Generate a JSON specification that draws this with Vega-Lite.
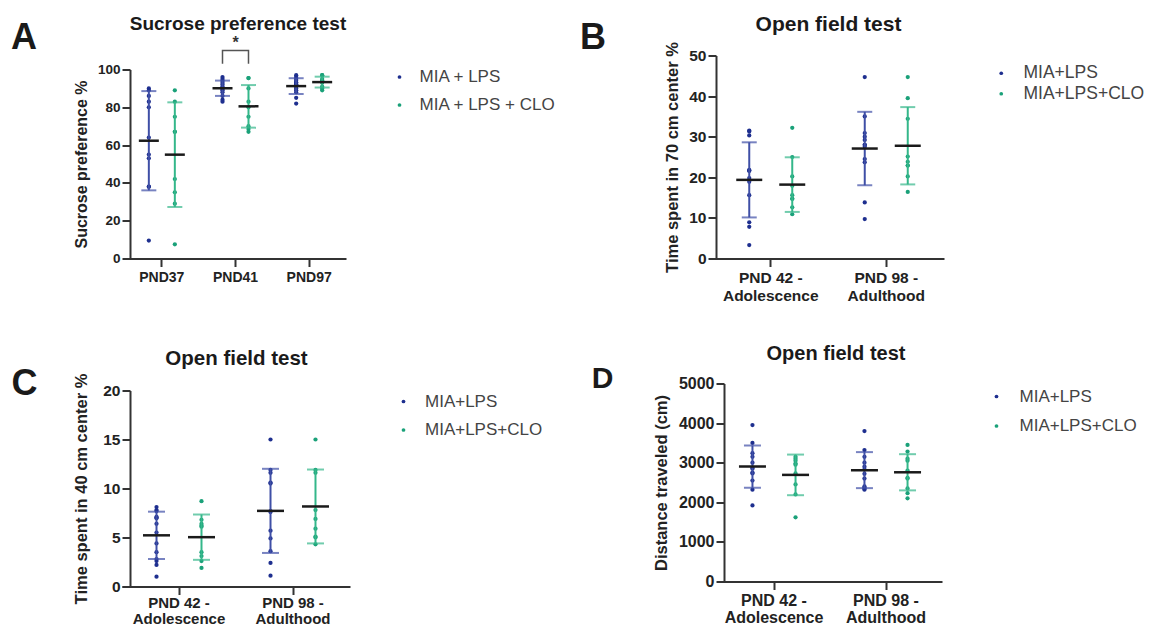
{
  "$schema": "https://vega.github.io/schema/vega-lite/v6.json",
  "padding": {"left": 10, "top": 13.5, "right": 2, "bottom": 0},
  "background": "white",
  "datasets": {
    "sucrose": [
      {"time": "PND37", "group": "MIA + LPS", "value": 90},
      {"time": "PND37", "group": "MIA + LPS", "value": 89},
      {"time": "PND37", "group": "MIA + LPS", "value": 86},
      {"time": "PND37", "group": "MIA + LPS", "value": 83},
      {"time": "PND37", "group": "MIA + LPS", "value": 80},
      {"time": "PND37", "group": "MIA + LPS", "value": 64},
      {"time": "PND37", "group": "MIA + LPS", "value": 55},
      {"time": "PND37", "group": "MIA + LPS", "value": 53},
      {"time": "PND37", "group": "MIA + LPS", "value": 38},
      {"time": "PND37", "group": "MIA + LPS", "value": 38},
      {"time": "PND37", "group": "MIA + LPS", "value": 9.5},
      {"time": "PND37", "group": "MIA + LPS + CLO", "value": 89},
      {"time": "PND37", "group": "MIA + LPS + CLO", "value": 83},
      {"time": "PND37", "group": "MIA + LPS + CLO", "value": 75},
      {"time": "PND37", "group": "MIA + LPS + CLO", "value": 67},
      {"time": "PND37", "group": "MIA + LPS + CLO", "value": 67},
      {"time": "PND37", "group": "MIA + LPS + CLO", "value": 42},
      {"time": "PND37", "group": "MIA + LPS + CLO", "value": 35},
      {"time": "PND37", "group": "MIA + LPS + CLO", "value": 29},
      {"time": "PND37", "group": "MIA + LPS + CLO", "value": 7.5},
      {"time": "PND41", "group": "MIA + LPS", "value": 96},
      {"time": "PND41", "group": "MIA + LPS", "value": 95},
      {"time": "PND41", "group": "MIA + LPS", "value": 94},
      {"time": "PND41", "group": "MIA + LPS", "value": 93},
      {"time": "PND41", "group": "MIA + LPS", "value": 92},
      {"time": "PND41", "group": "MIA + LPS", "value": 91},
      {"time": "PND41", "group": "MIA + LPS", "value": 90},
      {"time": "PND41", "group": "MIA + LPS", "value": 90},
      {"time": "PND41", "group": "MIA + LPS", "value": 89},
      {"time": "PND41", "group": "MIA + LPS", "value": 88},
      {"time": "PND41", "group": "MIA + LPS", "value": 86},
      {"time": "PND41", "group": "MIA + LPS", "value": 84},
      {"time": "PND41", "group": "MIA + LPS", "value": 83},
      {"time": "PND41", "group": "MIA + LPS + CLO", "value": 95.5},
      {"time": "PND41", "group": "MIA + LPS + CLO", "value": 95.5},
      {"time": "PND41", "group": "MIA + LPS + CLO", "value": 90},
      {"time": "PND41", "group": "MIA + LPS + CLO", "value": 83},
      {"time": "PND41", "group": "MIA + LPS + CLO", "value": 80},
      {"time": "PND41", "group": "MIA + LPS + CLO", "value": 75},
      {"time": "PND41", "group": "MIA + LPS + CLO", "value": 70},
      {"time": "PND41", "group": "MIA + LPS + CLO", "value": 68.5},
      {"time": "PND41", "group": "MIA + LPS + CLO", "value": 67},
      {"time": "PND97", "group": "MIA + LPS", "value": 97},
      {"time": "PND97", "group": "MIA + LPS", "value": 96},
      {"time": "PND97", "group": "MIA + LPS", "value": 95},
      {"time": "PND97", "group": "MIA + LPS", "value": 94},
      {"time": "PND97", "group": "MIA + LPS", "value": 93},
      {"time": "PND97", "group": "MIA + LPS", "value": 93},
      {"time": "PND97", "group": "MIA + LPS", "value": 92},
      {"time": "PND97", "group": "MIA + LPS", "value": 92},
      {"time": "PND97", "group": "MIA + LPS", "value": 91},
      {"time": "PND97", "group": "MIA + LPS", "value": 90},
      {"time": "PND97", "group": "MIA + LPS", "value": 89},
      {"time": "PND97", "group": "MIA + LPS", "value": 88},
      {"time": "PND97", "group": "MIA + LPS", "value": 85},
      {"time": "PND97", "group": "MIA + LPS", "value": 82},
      {"time": "PND97", "group": "MIA + LPS + CLO", "value": 97},
      {"time": "PND97", "group": "MIA + LPS + CLO", "value": 97},
      {"time": "PND97", "group": "MIA + LPS + CLO", "value": 95},
      {"time": "PND97", "group": "MIA + LPS + CLO", "value": 94},
      {"time": "PND97", "group": "MIA + LPS + CLO", "value": 94},
      {"time": "PND97", "group": "MIA + LPS + CLO", "value": 93},
      {"time": "PND97", "group": "MIA + LPS + CLO", "value": 91},
      {"time": "PND97", "group": "MIA + LPS + CLO", "value": 90},
      {"time": "PND97", "group": "MIA + LPS + CLO", "value": 89}
    ],
    "bracket": [
      {"time": "PND41", "group": "MIA + LPS", "value": 103, "step": 1},
      {"time": "PND41", "group": "MIA + LPS", "value": 110, "step": 2},
      {"time": "PND41", "group": "MIA + LPS + CLO", "value": 110, "step": 3},
      {"time": "PND41", "group": "MIA + LPS + CLO", "value": 103, "step": 4}
    ],
    "star": [
      {"time": "PND41", "value": 114, "label": "*"}
    ],
    "center70": [
      {"time": "PND 42 - Adolescence", "group": "MIA+LPS", "value": 31.5},
      {"time": "PND 42 - Adolescence", "group": "MIA+LPS", "value": 30.3},
      {"time": "PND 42 - Adolescence", "group": "MIA+LPS", "value": 31.3},
      {"time": "PND 42 - Adolescence", "group": "MIA+LPS", "value": 21.8},
      {"time": "PND 42 - Adolescence", "group": "MIA+LPS", "value": 21.6},
      {"time": "PND 42 - Adolescence", "group": "MIA+LPS", "value": 21.6},
      {"time": "PND 42 - Adolescence", "group": "MIA+LPS", "value": 19.8},
      {"time": "PND 42 - Adolescence", "group": "MIA+LPS", "value": 18.9},
      {"time": "PND 42 - Adolescence", "group": "MIA+LPS", "value": 15.6},
      {"time": "PND 42 - Adolescence", "group": "MIA+LPS", "value": 8.9},
      {"time": "PND 42 - Adolescence", "group": "MIA+LPS", "value": 7.8},
      {"time": "PND 42 - Adolescence", "group": "MIA+LPS", "value": 3.3},
      {"time": "PND 42 - Adolescence", "group": "MIA+LPS+CLO", "value": 32.2},
      {"time": "PND 42 - Adolescence", "group": "MIA+LPS+CLO", "value": 25},
      {"time": "PND 42 - Adolescence", "group": "MIA+LPS+CLO", "value": 20.2},
      {"time": "PND 42 - Adolescence", "group": "MIA+LPS+CLO", "value": 17.9},
      {"time": "PND 42 - Adolescence", "group": "MIA+LPS+CLO", "value": 15.6},
      {"time": "PND 42 - Adolescence", "group": "MIA+LPS+CLO", "value": 14.7},
      {"time": "PND 42 - Adolescence", "group": "MIA+LPS+CLO", "value": 14.7},
      {"time": "PND 42 - Adolescence", "group": "MIA+LPS+CLO", "value": 12.6},
      {"time": "PND 42 - Adolescence", "group": "MIA+LPS+CLO", "value": 10.9},
      {"time": "PND 98 - Adulthood", "group": "MIA+LPS", "value": 44.7},
      {"time": "PND 98 - Adulthood", "group": "MIA+LPS", "value": 35},
      {"time": "PND 98 - Adulthood", "group": "MIA+LPS", "value": 30.9},
      {"time": "PND 98 - Adulthood", "group": "MIA+LPS", "value": 30},
      {"time": "PND 98 - Adulthood", "group": "MIA+LPS", "value": 29.2},
      {"time": "PND 98 - Adulthood", "group": "MIA+LPS", "value": 28},
      {"time": "PND 98 - Adulthood", "group": "MIA+LPS", "value": 28},
      {"time": "PND 98 - Adulthood", "group": "MIA+LPS", "value": 27.5},
      {"time": "PND 98 - Adulthood", "group": "MIA+LPS", "value": 24.5},
      {"time": "PND 98 - Adulthood", "group": "MIA+LPS", "value": 23.7},
      {"time": "PND 98 - Adulthood", "group": "MIA+LPS", "value": 13.8},
      {"time": "PND 98 - Adulthood", "group": "MIA+LPS", "value": 9.7},
      {"time": "PND 98 - Adulthood", "group": "MIA+LPS+CLO", "value": 44.7},
      {"time": "PND 98 - Adulthood", "group": "MIA+LPS+CLO", "value": 39.5},
      {"time": "PND 98 - Adulthood", "group": "MIA+LPS+CLO", "value": 34.4},
      {"time": "PND 98 - Adulthood", "group": "MIA+LPS+CLO", "value": 25.1},
      {"time": "PND 98 - Adulthood", "group": "MIA+LPS+CLO", "value": 23.8},
      {"time": "PND 98 - Adulthood", "group": "MIA+LPS+CLO", "value": 22.9},
      {"time": "PND 98 - Adulthood", "group": "MIA+LPS+CLO", "value": 22.9},
      {"time": "PND 98 - Adulthood", "group": "MIA+LPS+CLO", "value": 20.2},
      {"time": "PND 98 - Adulthood", "group": "MIA+LPS+CLO", "value": 16.4}
    ],
    "center40": [
      {"time": "PND 42 - Adolescence", "group": "MIA+LPS", "value": 8.1},
      {"time": "PND 42 - Adolescence", "group": "MIA+LPS", "value": 7.8},
      {"time": "PND 42 - Adolescence", "group": "MIA+LPS", "value": 7.7},
      {"time": "PND 42 - Adolescence", "group": "MIA+LPS", "value": 7.1},
      {"time": "PND 42 - Adolescence", "group": "MIA+LPS", "value": 7.0},
      {"time": "PND 42 - Adolescence", "group": "MIA+LPS", "value": 7.0},
      {"time": "PND 42 - Adolescence", "group": "MIA+LPS", "value": 6.4},
      {"time": "PND 42 - Adolescence", "group": "MIA+LPS", "value": 5.5},
      {"time": "PND 42 - Adolescence", "group": "MIA+LPS", "value": 4.4},
      {"time": "PND 42 - Adolescence", "group": "MIA+LPS", "value": 3.5},
      {"time": "PND 42 - Adolescence", "group": "MIA+LPS", "value": 2.8},
      {"time": "PND 42 - Adolescence", "group": "MIA+LPS", "value": 2.6},
      {"time": "PND 42 - Adolescence", "group": "MIA+LPS", "value": 2.2},
      {"time": "PND 42 - Adolescence", "group": "MIA+LPS", "value": 1.0},
      {"time": "PND 42 - Adolescence", "group": "MIA+LPS+CLO", "value": 8.7},
      {"time": "PND 42 - Adolescence", "group": "MIA+LPS+CLO", "value": 6.8},
      {"time": "PND 42 - Adolescence", "group": "MIA+LPS+CLO", "value": 6.4},
      {"time": "PND 42 - Adolescence", "group": "MIA+LPS+CLO", "value": 6.2},
      {"time": "PND 42 - Adolescence", "group": "MIA+LPS+CLO", "value": 6.1},
      {"time": "PND 42 - Adolescence", "group": "MIA+LPS+CLO", "value": 3.5},
      {"time": "PND 42 - Adolescence", "group": "MIA+LPS+CLO", "value": 3.1},
      {"time": "PND 42 - Adolescence", "group": "MIA+LPS+CLO", "value": 2.6},
      {"time": "PND 42 - Adolescence", "group": "MIA+LPS+CLO", "value": 1.9},
      {"time": "PND 98 - Adulthood", "group": "MIA+LPS", "value": 15.0},
      {"time": "PND 98 - Adulthood", "group": "MIA+LPS", "value": 11.9},
      {"time": "PND 98 - Adulthood", "group": "MIA+LPS", "value": 11.6},
      {"time": "PND 98 - Adulthood", "group": "MIA+LPS", "value": 10.6},
      {"time": "PND 98 - Adulthood", "group": "MIA+LPS", "value": 10.5},
      {"time": "PND 98 - Adulthood", "group": "MIA+LPS", "value": 7.7},
      {"time": "PND 98 - Adulthood", "group": "MIA+LPS", "value": 7.6},
      {"time": "PND 98 - Adulthood", "group": "MIA+LPS", "value": 5.7},
      {"time": "PND 98 - Adulthood", "group": "MIA+LPS", "value": 4.9},
      {"time": "PND 98 - Adulthood", "group": "MIA+LPS", "value": 3.6},
      {"time": "PND 98 - Adulthood", "group": "MIA+LPS", "value": 2.4},
      {"time": "PND 98 - Adulthood", "group": "MIA+LPS", "value": 1.1},
      {"time": "PND 98 - Adulthood", "group": "MIA+LPS+CLO", "value": 15.0},
      {"time": "PND 98 - Adulthood", "group": "MIA+LPS+CLO", "value": 11.9},
      {"time": "PND 98 - Adulthood", "group": "MIA+LPS+CLO", "value": 11.6},
      {"time": "PND 98 - Adulthood", "group": "MIA+LPS+CLO", "value": 7.8},
      {"time": "PND 98 - Adulthood", "group": "MIA+LPS+CLO", "value": 6.9},
      {"time": "PND 98 - Adulthood", "group": "MIA+LPS+CLO", "value": 5.9},
      {"time": "PND 98 - Adulthood", "group": "MIA+LPS+CLO", "value": 5.1},
      {"time": "PND 98 - Adulthood", "group": "MIA+LPS+CLO", "value": 5.0},
      {"time": "PND 98 - Adulthood", "group": "MIA+LPS+CLO", "value": 4.3}
    ],
    "distance": [
      {"time": "PND 42 - Adolescence", "group": "MIA+LPS", "value": 3950},
      {"time": "PND 42 - Adolescence", "group": "MIA+LPS", "value": 3500},
      {"time": "PND 42 - Adolescence", "group": "MIA+LPS", "value": 3240},
      {"time": "PND 42 - Adolescence", "group": "MIA+LPS", "value": 3150},
      {"time": "PND 42 - Adolescence", "group": "MIA+LPS", "value": 3000},
      {"time": "PND 42 - Adolescence", "group": "MIA+LPS", "value": 2870},
      {"time": "PND 42 - Adolescence", "group": "MIA+LPS", "value": 2850},
      {"time": "PND 42 - Adolescence", "group": "MIA+LPS", "value": 2750},
      {"time": "PND 42 - Adolescence", "group": "MIA+LPS", "value": 2730},
      {"time": "PND 42 - Adolescence", "group": "MIA+LPS", "value": 2550},
      {"time": "PND 42 - Adolescence", "group": "MIA+LPS", "value": 2320},
      {"time": "PND 42 - Adolescence", "group": "MIA+LPS", "value": 1920},
      {"time": "PND 42 - Adolescence", "group": "MIA+LPS+CLO", "value": 3150},
      {"time": "PND 42 - Adolescence", "group": "MIA+LPS+CLO", "value": 3100},
      {"time": "PND 42 - Adolescence", "group": "MIA+LPS+CLO", "value": 3050},
      {"time": "PND 42 - Adolescence", "group": "MIA+LPS+CLO", "value": 2980},
      {"time": "PND 42 - Adolescence", "group": "MIA+LPS+CLO", "value": 2950},
      {"time": "PND 42 - Adolescence", "group": "MIA+LPS+CLO", "value": 2730},
      {"time": "PND 42 - Adolescence", "group": "MIA+LPS+CLO", "value": 2450},
      {"time": "PND 42 - Adolescence", "group": "MIA+LPS+CLO", "value": 2200},
      {"time": "PND 42 - Adolescence", "group": "MIA+LPS+CLO", "value": 1620},
      {"time": "PND 98 - Adulthood", "group": "MIA+LPS", "value": 3800},
      {"time": "PND 98 - Adulthood", "group": "MIA+LPS", "value": 3320},
      {"time": "PND 98 - Adulthood", "group": "MIA+LPS", "value": 3150},
      {"time": "PND 98 - Adulthood", "group": "MIA+LPS", "value": 3000},
      {"time": "PND 98 - Adulthood", "group": "MIA+LPS", "value": 2900},
      {"time": "PND 98 - Adulthood", "group": "MIA+LPS", "value": 2830},
      {"time": "PND 98 - Adulthood", "group": "MIA+LPS", "value": 2720},
      {"time": "PND 98 - Adulthood", "group": "MIA+LPS", "value": 2600},
      {"time": "PND 98 - Adulthood", "group": "MIA+LPS", "value": 2400},
      {"time": "PND 98 - Adulthood", "group": "MIA+LPS", "value": 2370},
      {"time": "PND 98 - Adulthood", "group": "MIA+LPS", "value": 2340},
      {"time": "PND 98 - Adulthood", "group": "MIA+LPS", "value": 2320},
      {"time": "PND 98 - Adulthood", "group": "MIA+LPS+CLO", "value": 3450},
      {"time": "PND 98 - Adulthood", "group": "MIA+LPS+CLO", "value": 3280},
      {"time": "PND 98 - Adulthood", "group": "MIA+LPS+CLO", "value": 3100},
      {"time": "PND 98 - Adulthood", "group": "MIA+LPS+CLO", "value": 3050},
      {"time": "PND 98 - Adulthood", "group": "MIA+LPS+CLO", "value": 2800},
      {"time": "PND 98 - Adulthood", "group": "MIA+LPS+CLO", "value": 2620},
      {"time": "PND 98 - Adulthood", "group": "MIA+LPS+CLO", "value": 2600},
      {"time": "PND 98 - Adulthood", "group": "MIA+LPS+CLO", "value": 2350},
      {"time": "PND 98 - Adulthood", "group": "MIA+LPS+CLO", "value": 2230},
      {"time": "PND 98 - Adulthood", "group": "MIA+LPS+CLO", "value": 2100}
    ]
  },
  "config": {
    "view": {"stroke": null},
    "font": "Liberation Sans",
    "title": {"font": "Liberation Sans", "fontWeight": "bold", "color": "#1a1a1a"},
    "axis": {
      "domainColor": "#333333", "domainWidth": 2, "tickColor": "#333333", "tickWidth": 2, "tickSize": 8,
      "labelFont": "Liberation Sans", "labelFontWeight": "bold", "labelColor": "#222222", "labelPadding": 2,
      "labelOverlap": false,
      "titleFont": "Liberation Sans", "titleFontWeight": "bold", "titleColor": "#222222", "titlePadding": 8,
      "grid": false
    },
    "legend": {
      "title": null, "symbolType": "circle", "symbolSize": 14, "labelFont": "Liberation Sans",
      "labelColor": "#444444", "labelFontSize": 17, "padding": 0
    }
  },
  "vconcat": [
    {
      "hconcat": [
        {
          "title": {"text": "A", "anchor": "start", "fontSize": 36, "offset": -42.25, "dx": -62.5},
          "hconcat": [
            {
              "width": 216, "height": 203,
              "title": {"text": "Sucrose preference test", "fontSize": 19, "offset": 1},
              "data": {"name": "sucrose"},
              "encoding": {
                "x": {"field": "time", "type": "nominal", "sort": ["PND37", "PND41", "PND97"],
                      "scale": {"paddingInner": 0, "paddingOuter": 0, "range": [-5, 216]},
                      "axis": {"title": null, "labelAngle": 0, "labelFontSize": 14, "labelPadding": 4}}
              },
              "layer": [
                {
                  "mark": {"type": "circle", "size": 18, "opacity": 1},
                  "encoding": {
                    "xOffset": {"field": "group", "type": "nominal", "sort": ["MIA + LPS", "MIA + LPS + CLO"], "scale": {"paddingInner": 0, "paddingOuter": 0.417}},
                    "y": {"field": "value", "type": "quantitative", "scale": {"domain": [0, 100], "nice": false, "range": [203, 14]},
                          "axis": {"title": "Sucrose preference %", "values": [0, 20, 40, 60, 80, 100], "labelFontSize": 13.5, "titleFontSize": 16}},
                    "color": {"field": "group", "type": "nominal", "sort": ["MIA + LPS", "MIA + LPS + CLO"],
                              "scale": {"range": ["#1e2f8f", "#1aa179"]},
                              "legend": {"orient": "none", "legendX": 261, "legendY": 13, "rowPadding": 10, "labelOffset": 11.5}}
                  }
                },
                {
                  "mark": {"type": "errorbar", "extent": "stdev", "thickness": 2, "ticks": {"size": 15, "thickness": 2}},
                  "encoding": {
                    "xOffset": {"field": "group", "type": "nominal", "sort": ["MIA + LPS", "MIA + LPS + CLO"]},
                    "y": {"field": "value", "type": "quantitative", "title": "Sucrose preference %"},
                    "color": {"condition": {"test": "datum.group === 'MIA + LPS'", "value": "#3f4fa6"}, "value": "#34b78a"}
                  }
                },
                {
                  "mark": {"type": "tick", "thickness": 2.5, "color": "#1a1a1a"},
                  "encoding": {
                    "xOffset": {"field": "group", "type": "nominal", "sort": ["MIA + LPS", "MIA + LPS + CLO"]},
                    "y": {"aggregate": "mean", "field": "value", "type": "quantitative", "title": "Sucrose preference %"},
                    "size": {"value": 20}
                  }
                },
                {
                  "data": {"name": "bracket"},
                  "mark": {"type": "line", "color": "#555555", "strokeWidth": 1.5},
                  "encoding": {
                    "xOffset": {"field": "group", "type": "nominal", "sort": ["MIA + LPS", "MIA + LPS + CLO"]},
                    "y": {"field": "value", "type": "quantitative", "title": "Sucrose preference %"},
                    "order": {"field": "step", "type": "quantitative"}
                  }
                },
                {
                  "data": {"name": "star"},
                  "mark": {"type": "text", "fontSize": 16, "fontWeight": "bold", "color": "#333333", "baseline": "middle"},
                  "encoding": {
                    "y": {"field": "value", "type": "quantitative", "title": "Sucrose preference %"},
                    "text": {"field": "label"}
                  }
                }
              ]
            }
          ]
        },
        {
          "title": {"text": "B", "anchor": "start", "fontSize": 36, "offset": -43.25, "dx": -84.75},
          "hconcat": [
            {
              "width": 225, "height": 203,
              "title": {"text": "Open field test", "fontSize": 21, "offset": 7},
              "data": {"name": "center70"},
              "encoding": {
                "x": {"field": "time", "type": "nominal", "sort": ["PND 42 - Adolescence", "PND 98 - Adulthood"],
                      "scale": {"paddingInner": 0, "paddingOuter": 0, "range": [-3, 228]},
                      "axis": {"title": null, "labelAngle": 0, "labelFontSize": 15.5, "labelPadding": 4, "labelLineHeight": 18,
                               "labelExpr": "[split(datum.label, ' - ')[0] + ' -', split(datum.label, ' - ')[1]]"}},
                "xOffset": {"field": "group", "type": "nominal", "sort": ["MIA+LPS", "MIA+LPS+CLO"], "scale": {"paddingInner": 0, "paddingOuter": 0.343}}
              },
              "layer": [
                {
                  "mark": {"type": "circle", "size": 18, "opacity": 1},
                  "encoding": {
                    "y": {"field": "value", "type": "quantitative", "scale": {"domain": [0, 50], "nice": false},
                          "axis": {"title": "Time spent in 70 cm center %", "values": [0, 10, 20, 30, 40, 50], "labelFontSize": 15.5, "titleFontSize": 16.5}},
                    "color": {"field": "group", "type": "nominal", "sort": ["MIA+LPS", "MIA+LPS+CLO"],
                              "scale": {"range": ["#1e2f8f", "#1aa179"]},
                              "legend": {"orient": "none", "legendX": 276.5, "legendY": 9, "rowPadding": 1.5, "labelOffset": 13.5, "labelFontSize": 17.5}}
                  }
                },
                {
                  "mark": {"type": "errorbar", "extent": "stdev", "thickness": 2, "ticks": {"size": 15, "thickness": 2}},
                  "encoding": {
                    "y": {"field": "value", "type": "quantitative", "title": "Time spent in 70 cm center %"},
                    "color": {"condition": {"test": "datum.group === 'MIA+LPS'", "value": "#3f4fa6"}, "value": "#34b78a"}
                  }
                },
                {
                  "mark": {"type": "tick", "thickness": 2.5, "color": "#1a1a1a"},
                  "encoding": {
                    "y": {"aggregate": "mean", "field": "value", "type": "quantitative", "title": "Time spent in 70 cm center %"},
                    "size": {"value": 26}
                  }
                }
              ]
            }
          ]
        }
      ],
      "spacing": 24,
      "resolve": {"scale": {"x": "independent", "y": "independent", "color": "independent", "xOffset": "independent"}, "legend": {"color": "independent"}}
    },
    {
      "hconcat": [
        {
          "title": {"text": "C", "anchor": "start", "fontSize": 36, "offset": -53.7, "dx": -61.8},
          "hconcat": [
            {
              "width": 213, "height": 203,
              "title": {"text": "Open field test", "fontSize": 20.5, "offset": 3.2},
              "data": {"name": "center40"},
              "encoding": {
                "x": {"field": "time", "type": "nominal", "sort": ["PND 42 - Adolescence", "PND 98 - Adulthood"],
                      "scale": {"paddingInner": 0, "paddingOuter": 0, "range": [-8, 220]},
                      "axis": {"title": null, "labelAngle": 0, "labelFontSize": 15, "labelPadding": 1, "labelLineHeight": 16,
                               "labelExpr": "[split(datum.label, ' - ')[0] + ' -', split(datum.label, ' - ')[1]]"}},
                "xOffset": {"field": "group", "type": "nominal", "sort": ["MIA+LPS", "MIA+LPS+CLO"], "scale": {"paddingInner": 0, "paddingOuter": 0.267}}
              },
              "layer": [
                {
                  "mark": {"type": "circle", "size": 18, "opacity": 1},
                  "encoding": {
                    "y": {"field": "value", "type": "quantitative", "scale": {"domain": [0, 20], "nice": false, "range": [203, 7]},
                          "axis": {"title": "Time spent in 40 cm center %", "values": [0, 5, 10, 15, 20], "labelFontSize": 15.5, "titleFontSize": 16.5, "titlePadding": 13.5}},
                    "color": {"field": "group", "type": "nominal", "sort": ["MIA+LPS", "MIA+LPS+CLO"],
                              "scale": {"range": ["#1e2f8f", "#1aa179"]},
                              "legend": {"orient": "none", "legendX": 265, "legendY": 9.5, "rowPadding": 10.5, "labelOffset": 13}}
                  }
                },
                {
                  "mark": {"type": "errorbar", "extent": "stdev", "thickness": 2, "ticks": {"size": 17, "thickness": 2}},
                  "encoding": {
                    "y": {"field": "value", "type": "quantitative", "title": "Time spent in 40 cm center %"},
                    "color": {"condition": {"test": "datum.group === 'MIA+LPS'", "value": "#3f4fa6"}, "value": "#34b78a"}
                  }
                },
                {
                  "mark": {"type": "tick", "thickness": 2.5, "color": "#1a1a1a"},
                  "encoding": {
                    "y": {"aggregate": "mean", "field": "value", "type": "quantitative", "title": "Time spent in 40 cm center %"},
                    "size": {"value": 27}
                  }
                }
              ]
            }
          ]
        },
        {
          "title": {"text": "D", "anchor": "start", "fontSize": 30, "offset": -50.2, "dx": -61.75},
          "hconcat": [
            {
              "width": 224, "height": 198,
              "title": {"text": "Open field test", "fontSize": 20, "offset": 11.7},
              "data": {"name": "distance"},
              "encoding": {
                "x": {"field": "time", "type": "nominal", "sort": ["PND 42 - Adolescence", "PND 98 - Adulthood"],
                      "scale": {"paddingInner": 0, "paddingOuter": 0, "range": [-6, 218]},
                      "axis": {"title": null, "labelAngle": 0, "labelFontSize": 16, "labelPadding": 3, "labelLineHeight": 17,
                               "labelExpr": "[split(datum.label, ' - ')[0] + ' -', split(datum.label, ' - ')[1]]"}},
                "xOffset": {"field": "group", "type": "nominal", "sort": ["MIA+LPS", "MIA+LPS+CLO"], "scale": {"paddingInner": 0, "paddingOuter": 0.3}}
              },
              "layer": [
                {
                  "mark": {"type": "circle", "size": 18, "opacity": 1},
                  "encoding": {
                    "y": {"field": "value", "type": "quantitative", "scale": {"domain": [0, 5000], "nice": false},
                          "axis": {"title": "Distance traveled (cm)", "values": [0, 1000, 2000, 3000, 4000, 5000], "tickCount": 6, "labelOverlap": false, "format": "d", "labelFontSize": 16, "titleFontSize": 16.5, "titlePadding": 9}},
                    "color": {"field": "group", "type": "nominal", "sort": ["MIA+LPS", "MIA+LPS+CLO"],
                              "scale": {"range": ["#1e2f8f", "#1aa179"]},
                              "legend": {"orient": "none", "legendX": 264, "legendY": 4.5, "rowPadding": 11.5, "labelOffset": 14.5}}
                  }
                },
                {
                  "mark": {"type": "errorbar", "extent": "stdev", "thickness": 2, "ticks": {"size": 17, "thickness": 2}},
                  "encoding": {
                    "y": {"field": "value", "type": "quantitative", "title": "Distance traveled (cm)"},
                    "color": {"condition": {"test": "datum.group === 'MIA+LPS'", "value": "#3f4fa6"}, "value": "#34b78a"}
                  }
                },
                {
                  "mark": {"type": "tick", "thickness": 2.5, "color": "#1a1a1a"},
                  "encoding": {
                    "y": {"aggregate": "mean", "field": "value", "type": "quantitative", "title": "Distance traveled (cm)"},
                    "size": {"value": 27}
                  }
                }
              ]
            }
          ]
        }
      ],
      "spacing": 48,
      "resolve": {"scale": {"x": "independent", "y": "independent", "color": "independent", "xOffset": "independent"}, "legend": {"color": "independent"}}
    }
  ],
  "spacing": 39,
  "resolve": {"scale": {"x": "independent", "y": "independent", "color": "independent", "xOffset": "independent"}, "legend": {"color": "independent"}}
}
